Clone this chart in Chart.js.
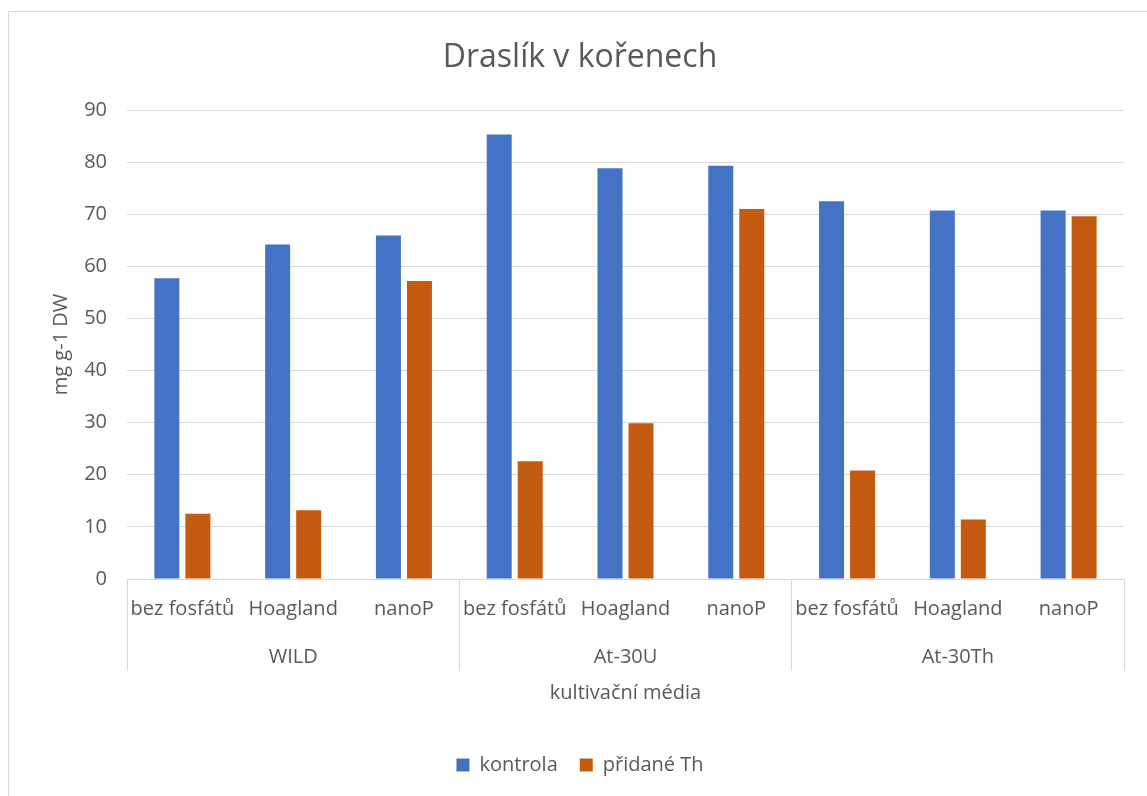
<!DOCTYPE html>
<html>
<head>
<meta charset="utf-8">
<script src="https://cdn.jsdelivr.net/npm/chart.js@4/dist/chart.umd.min.js"></script>
<style>
  html, body { margin: 0; padding: 0; background: #ffffff; overflow: hidden; }
  #frame { position: absolute; left: 8px; top: 11px; width: 1300px; height: 900px; border: 1px solid #d9d9d9; }
  #c { position: absolute; left: 0; top: 0; }
</style>
</head>
<body>
<div id="frame"></div>
<canvas id="c" width="1147" height="796"></canvas>
<script>
const groups = ['WILD', 'At-30U', 'At-30Th'];
const media = ['bez fosfátů', 'Hoagland', 'nanoP'];
const kontrola = [57.7, 64.2, 65.9, 85.3, 78.8, 79.3, 72.5, 70.7, 70.7];
const pridaneTh = [12.5, 13.2, 57.2, 22.6, 29.9, 71.0, 20.8, 11.4, 69.6];
const yTicks = [0, 10, 20, 30, 40, 50, 60, 70, 80, 90];

const labels = [];
groups.forEach(g => media.forEach((m, j) => labels.push([m, j === 1 ? g : ''])));

const FONT = 'Open Sans';
const TXT = '#595959';
const GRID = '#d9d9d9';

new Chart(document.getElementById('c'), {
  type: 'bar',
  data: {
    labels: labels,
    datasets: [
      { label: 'kontrola', data: kontrola, backgroundColor: '#4472C4', categoryPercentage: 0.56, barPercentage: 0.806 },
      { label: 'přidané Th', data: pridaneTh, backgroundColor: '#C55A11', categoryPercentage: 0.56, barPercentage: 0.806 }
    ]
  },
  options: {
    responsive: false,
    animation: false,
    layout: { padding: { left: 36, right: 23, top: 0, bottom: 11 } },
    plugins: {
      title: {
        display: true,
        text: 'Draslík v kořenech',
        color: TXT,
        font: { family: FONT, size: 32, weight: 'normal', lineHeight: 1.2 },
        padding: { top: 39, bottom: 32.6 }
      },
      legend: {
        position: 'bottom',
        labels: {
          color: TXT,
          font: { family: FONT, size: 20 },
          boxWidth: 13,
          boxHeight: 13,
          padding: 22
        }
      },
      tooltip: { enabled: false }
    },
    scales: {
      x: {
        offset: true,
        grid: {
          display: true,
          offset: true,
          drawOnChartArea: false,
          drawTicks: true,
          tickLength: 92,
          color: ctx => (ctx.index === undefined || ctx.index % 3 === 0) ? GRID : 'rgba(0,0,0,0)',
          lineWidth: 1
        },
        border: { display: true, color: GRID, width: 1 },
        ticks: {
          color: TXT,
          font: { family: FONT, size: 20, lineHeight: 2.425 },
          padding: -86,
          autoSkip: false,
          maxRotation: 0,
          minRotation: 0
        },
        title: {
          display: true,
          text: 'kultivační média',
          color: TXT,
          font: { family: FONT, size: 20, lineHeight: 1.2 },
          padding: { top: 0, bottom: 28 }
        },
        afterFit: s => { s.height = 154; }
      },
      y: {
        min: 0,
        max: 90,
        afterBuildTicks: s => { s.ticks = yTicks.map(v => ({ value: v })); },
        grid: { color: GRID, lineWidth: 1, drawTicks: false },
        border: { display: false },
        ticks: {
          color: TXT,
          font: { family: FONT, size: 20 },
          padding: 20
        },
        title: {
          display: true,
          text: 'mg g-1 DW',
          color: TXT,
          font: { family: FONT, size: 20, lineHeight: 1.2 },
          padding: { top: 13, bottom: 0 }
        },
        afterFit: s => { s.width = 91; }
      }
    }
  }
});
</script>
</body>
</html>
